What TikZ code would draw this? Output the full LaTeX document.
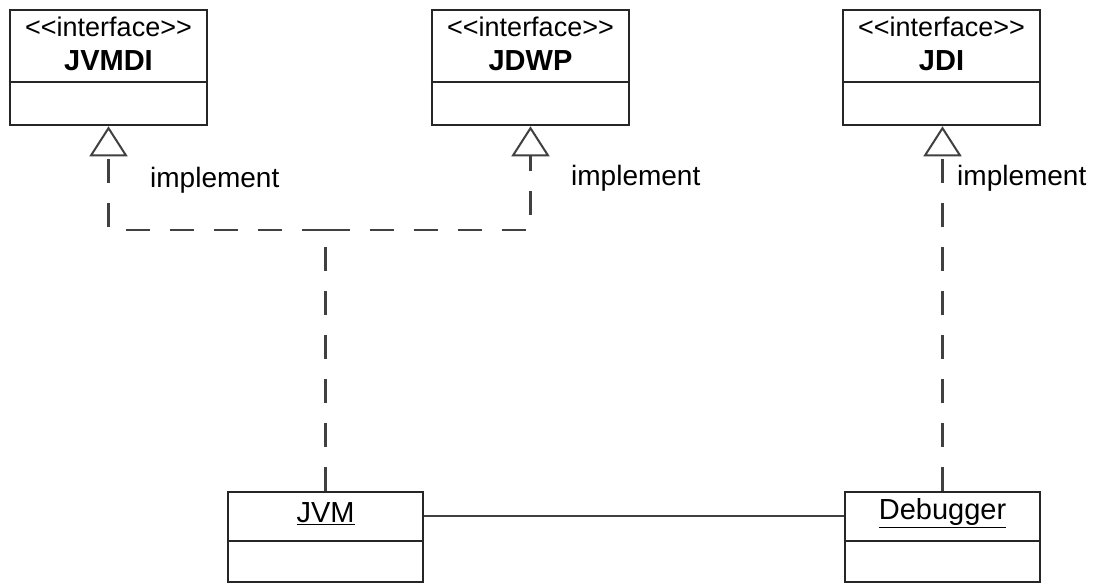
\documentclass[tikz,border=0pt]{standalone}
\usepackage{fontspec}
\setmainfont{Liberation Sans}
\usetikzlibrary{arrows.meta}
\begin{document}
\begin{tikzpicture}[x=1pt,y=-1pt,
  cls/.style={draw=black!85,line width=2.6pt,fill=white,minimum width=197pt,inner sep=0pt},
  lbl/.style={font=\fontsize{28}{32}\selectfont,inner sep=0pt,anchor=west},
  real/.style={draw=black!75,line width=2.8pt,dash pattern=on 24pt off 20pt,
     -{Triangle[open,length=30pt,width=38pt,line width=2pt]}},
  assoc/.style={draw=black!75,line width=2.2pt}]
\useasboundingbox (0,0) rectangle (1095,584);
\fill[white] (0,0) rectangle (1095,584);
% interface boxes
\foreach \n/\x/\t in {jvmdi/108.5/JVMDI, jdwp/530.5/JDWP, jdi/941.5/JDI}{
  \node[cls,minimum height=115pt] (\n) at (\x,67.5) {};
  \draw[black!85,line width=2.6pt] (\n.west |- 0,82) -- (\n.east |- 0,82);
  \node[font=\fontsize{27}{30}\selectfont,inner sep=0pt] (\n-st) at (\x,27) {<{}<interface>{}>};
  \node[font=\fontsize{29}{32}\selectfont\bfseries,inner sep=0pt] (\n-nm) at (\x,61) {\t};
}
% classes
\node[cls,minimum height=90pt,minimum width=195pt] (jvm) at (325.5,537) {};
\draw[black!85,line width=2.6pt] (jvm.west |- 0,541) -- (jvm.east |- 0,541);
\node[font=\fontsize{29}{32}\selectfont,inner sep=0pt] (jvm-nm) at (325.5,514) {\underline{JVM}};
\node[cls,minimum height=90pt,minimum width=195pt] (dbg) at (942.5,537) {};
\draw[black!85,line width=2.6pt] (dbg.west |- 0,541) -- (dbg.east |- 0,541);
\node[font=\fontsize{29}{32}\selectfont,inner sep=0pt] (dbg-nm) at (942.5,513) {\underline{Debugger}};
% connectors
\coordinate (j) at (325.5,230);
\draw[real] (j) -| (jvmdi.south);
\draw[real] (j) -| (jdwp.south);
\draw[draw=black!75,line width=2.8pt,dash pattern=on 24pt off 20pt] (jvm.north) -- (j);
\draw[real] (dbg.north) -- (dbg.north |- jdi.south);
\draw[assoc] (jvm.east |- 0,516) -- (dbg.west |- 0,516);
% labels
\node[lbl] (l1) at (150,180) {implement};
\node[lbl] (l2) at (571,178) {implement};
\node[lbl] (l3) at (957,178) {implement};
\end{tikzpicture}
\end{document}
